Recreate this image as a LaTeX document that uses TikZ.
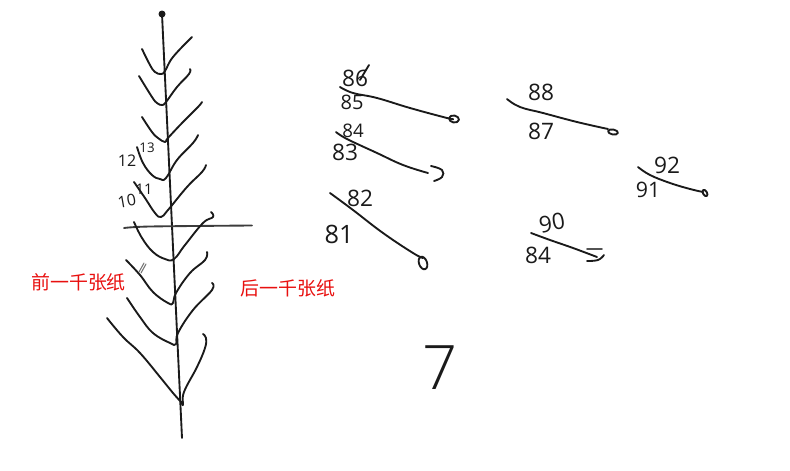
\documentclass[tikz,border=0pt]{standalone}
\usepackage{fontspec}
\setmainfont{Liberation Sans}
\newfontfamily\cjkfont{Noto Sans CJK SC}
\newfontfamily\handfont{Open Sans}
\newfontfamily\thinfont{Open Sans Light}
\usetikzlibrary{
positioning,
arrows.meta,
}
\definecolor{ink}{HTML}{1A1A1A}
\definecolor{redlabel}{HTML}{E8100F}
\tikzset{
every node/.style={align=center},
stroke/.style={draw=ink, line width=1.4pt, line cap=round, line join=round},
leaf/.style={stroke, smooth, tension=0.7},
digit/.style={text=ink, inner sep=0pt, font=\handfont\fontsize{#1}{#1}\selectfont},
digit/.default=17,
redtext/.style={text=redlabel, inner sep=0pt, font=\cjkfont\fontsize{14.2}{16}\selectfont},
}
\begin{document}
\begin{tikzpicture}[x=0.75pt, y=-0.75pt]
    \useasboundingbox (0,0) rectangle (790,471);
    \coordinate (top) at (162,14);
    \coordinate (bottom) at (182,438);
    \fill [ink] (top) circle (3.5);
    \draw [stroke] (top) -- (bottom);
    \draw [stroke, draw=ink!85] plot [smooth] coordinates {(124,228) (150,226.5) (252,225.5)};

    \draw [leaf] plot coordinates {(142,49) (150,65) (155,72) (161,74) (165,71) (173,57) (192,37)};
    \draw [leaf] plot coordinates {(139,76) (152,97) (157,103) (162,105) (166,102) (177,87) (189,74) (190,69)};
    \draw [leaf] plot coordinates {(142,117) (152,132) (158,138) (165,142) (168,138) (183,122) (198,107) (202,102)};
    \draw [leaf] plot coordinates {(137,147) (143,163) (152,175) (160,179) (166,178) (177,160) (193,143) (198,135)};
    \draw [leaf] plot coordinates {(134,182) (145,198) (155,213) (161,217) (168,210) (187,187) (202,172) (206,165)};
    \draw [leaf] plot coordinates {(134,222) (142,238) (153,252) (165,259) (174,259) (185,245) (203,223) (213,217) (211,212)};
    \draw [leaf] plot coordinates {(126,260) (140,275) (153,292) (168,303) (173,303) (176,293) (190,273) (205,260) (207,252)};
    \draw [leaf] plot coordinates {(127,298) (140,317) (153,333) (170,343) (176,344) (178,333) (193,310) (212,290) (212,283)};
    \draw [leaf] plot coordinates {(107,318) (123,337) (140,353) (160,377) (173,393) (181,402) (183,405) (184,392) (197,367) (205,348) (206,338) (203,334)};
    \draw [stroke, draw=ink!60, line width=0.8pt] (139,272) -- (144,263) (141,273) -- (146,264);

    \node [digit=12] (n12) at (127,161) {12};
    \node [digit=10] (n13) at (147,148) {13};
    \node [digit=12, rotate=10] (n10) at (127,201) {10};
    \node [digit=11] (n11) at (144,189) {11};

    \node [redtext, anchor=west] (before) at (31,282) {前一千张纸};
    \node [redtext, anchor=west] (after) at (240,288) {后一千张纸};

    \draw [leaf] plot coordinates {(340,87) (353,93) (377,98) (410,108) (447,118) (453,119)};
    \draw [stroke, rotate around={-10:(454,119)}] (454,119) ellipse (5 and 3.5);
    \node [digit=17] (n86) at (355,78) {86};
    \node [digit=15] (n85) at (352,102) {85};
    \draw [stroke] (369,65) -- (360,80);

    \draw [leaf] plot coordinates {(336,132) (347,139) (377,153) (403,165) (428,173)};
    \draw [leaf] plot coordinates {(431,166) (442,170) (442,177) (434,181)};
    \node [digit=14] (n84) at (353,131) {84};
    \node [digit=17] (n83) at (345,152) {83};

    \draw [leaf] plot coordinates {(330,193) (353,210) (383,233) (413,253) (423,258)};
    \draw [stroke, rotate around={-70:(423,263)}] (423,263) ellipse (6.5 and 4);
    \node [digit=17] (n82) at (360,198) {82};
    \node [digit=19] (n81) at (339,234) {81};

    \draw [leaf] plot coordinates {(507,99) (520,107) (543,113) (577,122) (608,129)};
    \draw [stroke, rotate around={-10:(613,132)}] (613,132) ellipse (5 and 2.5);
    \node [digit=17] (n88) at (541,92) {88};
    \node [digit=17] (n87) at (541,131) {87};

    \draw [leaf] plot coordinates {(638,167) (650,175) (670,183) (690,189) (703,192)};
    \draw [stroke, rotate around={-60:(705,193)}] (705,193) ellipse (3.5 and 2);
    \node [digit=17] (n92) at (667,165) {92};
    \node [digit=16] (n91) at (648,190) {91};

    \draw [leaf] plot coordinates {(531,233) (550,240) (573,248) (597,257)};
    \draw [leaf] plot coordinates {(587,261) (598,260) (604,255)};
    \draw [stroke, draw=ink!75] (587,249) -- (602,249);
    \node [digit=17, rotate=10] (n90) at (552,223) {90};
    \node [digit=17] (n84b) at (538,255) {84};

    \node [text=ink, inner sep=0pt, font=\thinfont\fontsize{46}{46}\selectfont] (n7) at (440,368) {7};
\end{tikzpicture}
\end{document}
